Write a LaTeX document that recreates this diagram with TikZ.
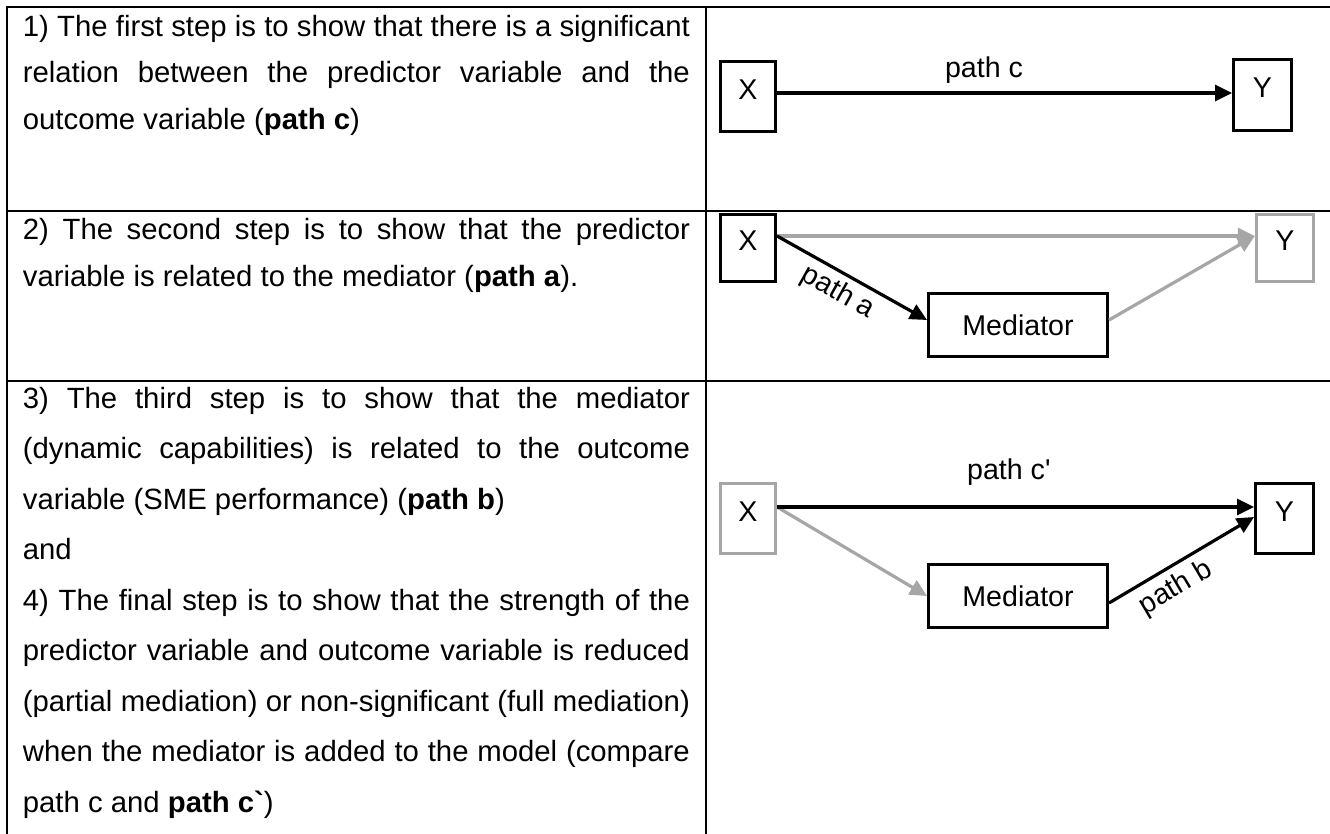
\documentclass[tikz,border=0pt]{standalone}
\usepackage{fontspec}
\newfontfamily\arial{Liberation Sans}
\usetikzlibrary{arrows.meta,calc}
\definecolor{lgray}{RGB}{166,166,166}
\newcommand\jline[1]{\hbox to 667pt{\rule{0pt}{30pt}#1}}
\newcommand\rline[1]{\hbox to 667pt{\rule{0pt}{30pt}#1\hfil}}
\newcommand\uptext[1]{\raisebox{7pt}[\height][\depth]{#1}}
\begin{document}
\begin{tikzpicture}[x=1pt,y=-1pt,
  tbl/.style={line width=2pt, line cap=rect},
  bodytext/.style={anchor=north west, inner sep=0pt, font=\arial\fontsize{29.3pt}{46.7pt}\selectfont},
  bodywide/.style={bodytext, font=\arial\fontsize{29.3pt}{50.5pt}\selectfont},
  vbox/.style={draw=black, line width=3pt, inner sep=0pt, font=\arial\fontsize{28.6pt}{34pt}\selectfont},
  gbox/.style={vbox, draw=lgray},
  mbox/.style={vbox, minimum width=179pt, minimum height=63pt},
  arr/.style={line width=3.2pt, -{Triangle[length=17pt,width=16pt]}},
  garr/.style={arr, draw=lgray},
  lab/.style={inner sep=0pt, font=\arial\fontsize{28.6pt}{34pt}\selectfont}
]
\useasboundingbox (0,0) rectangle (1330,834);
\fill[white] (0,0) rectangle (1330,834);

% table rules
\draw[tbl] (6.5,7) -- (1331,7);
\draw[tbl] (6.5,7) -- (6.5,836);
\draw[tbl] (706,7) -- (706,836);
\draw[tbl] (6.5,211) -- (1331,211);
\draw[tbl] (6.5,380.5) -- (1331,380.5);

% left column text
\node[bodytext] (r1) at (22.7,6) {\vbox{%
\jline{1) The first step is to show that there is a significant}
\jline{relation between the predictor variable and the}
\rline{outcome variable (\textbf{path c})}}};

\node[bodytext] (r2) at (22.7,209.3) {\vbox{%
\jline{2) The second step is to show that the predictor}
\rline{variable is related to the mediator (\textbf{path a}).}}};

\node[bodywide] (r3) at (22.7,378) {\vbox{%
\jline{3) The third step is to show that the mediator}
\jline{(dynamic capabilities) is related to the outcome}
\rline{variable (SME performance) (\textbf{path b})}
\rline{and}
\jline{4) The final step is to show that the strength of the}
\jline{predictor variable and outcome variable is reduced}
\jline{(partial mediation) or non-significant (full mediation)}
\jline{when the mediator is added to the model (compare}
\rline{path c and \textbf{path c`})}}};

% row 1 diagram
\node[vbox, minimum width=55pt, minimum height=70pt] (X1) at (748,96.5) {\uptext{X}};
\node[vbox, minimum width=58pt, minimum height=71pt] (Y1) at (1262.5,95) {\uptext{Y}};
\draw[arr] ([yshift=3.5pt]X1.east) -- node[lab, above=7.5pt, pos=0.455] (lc) {path c} ([yshift=2pt]Y1.west);

% row 2 diagram
\node[vbox, minimum width=55pt, minimum height=67pt] (X2) at (748,248) {\uptext{X}};
\node[gbox, minimum width=57.5pt, minimum height=67pt] (Y2) at (1285,248) {\uptext{Y}};
\node[mbox] (M2) at (1018,325) {Mediator};
\draw[garr] ([yshift=12pt]X2.east) -- ([yshift=12pt]Y2.west);
\draw[garr] ([yshift=5pt]M2.east) -- ([yshift=12pt]Y2.west);
\draw[arr] ([yshift=12pt]X2.east) -- node[lab, sloped, below=5pt, pos=0.47] (la) {path a} ([yshift=5pt]M2.west);

% row 3 diagram
\node[gbox, minimum width=55pt, minimum height=70pt] (X3) at (748,518.5) {\uptext{X}};
\node[vbox, minimum width=58pt, minimum height=70pt] (Y3) at (1284.5,518.5) {\uptext{Y}};
\node[mbox] (M3) at (1018,596) {Mediator};
\draw[garr] ([yshift=11.5pt]X3.east) -- (M3.west);
\draw[arr] ([yshift=11.5pt]X3.east) -- node[lab, above=19.5pt, pos=0.486] (lcp) {path c'} ([yshift=11.5pt]Y3.west);
\draw[arr] ([yshift=-7pt]M3.east) -- node[lab, sloped, below=6.6pt, pos=0.385] (lb) {path b} ([yshift=1.5pt]Y3.west);
\end{tikzpicture}
\end{document}
